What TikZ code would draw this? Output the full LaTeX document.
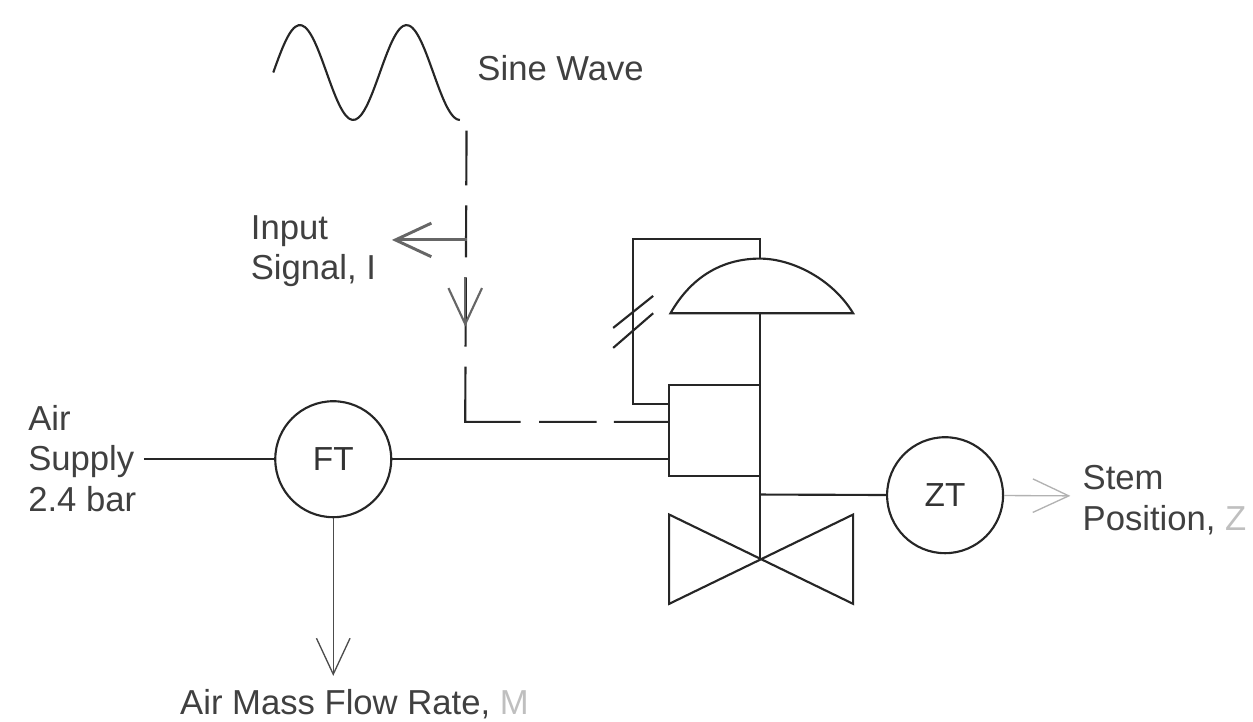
\documentclass[tikz,border=0pt]{standalone}
\usepackage{fontspec}
\setmainfont{Liberation Sans}
\usetikzlibrary{arrows.meta}
\tikzset{
  line/.style={line width=1.6pt,black!85},
  sig/.style={line width=1.6pt,black!85,dash pattern=on 41pt off 15pt on 39pt off 15pt on 52pt off 15pt on 83pt off 14pt on 43pt off 13pt on 41pt off 20pt},
  inst/.style={draw=black!85,line width=1.6pt,circle,minimum size=87pt,inner sep=0pt,font=\fontsize{25}{25}\selectfont,text=black!80},
  lab/.style={font=\fontsize{26}{30.5}\selectfont,text=black!75,inner sep=0pt,align=left},
  open/.style={-{Straight Barb[length=27pt,width=30pt,angle'=50]}}
}
\begin{document}
\begin{tikzpicture}[x=1pt,y=-1pt]
\useasboundingbox (0,0) rectangle (940,541.5);
% instruments
\node[inst] (ft) at (250,344.5) {FT};
\node[inst] (zt) at (709,371.5) {ZT};
\coordinate (sine) at (350,98);
\coordinate (corner) at (349,316.5);
\coordinate (boxin) at (502,316.5);
\coordinate (sigarrow) at (349,245);
\coordinate (sigdown) at (349,208);
\coordinate (siglabel) at (294,180);
\coordinate (sigtap) at (350,180);
\coordinate (supply) at (108,344.5);
\coordinate (boxft) at (502,344.5);
\coordinate (flowend) at (250,507);
\coordinate (ztend) at (803,372);
% sine wave
\draw[line] plot[domain=205:345,samples=60,smooth] (\x,{54.4-35.6*sin(4.5*(\x-205))});
\node[lab,anchor=west] (sinelab) at (358,51) {Sine Wave};
% signal line
\draw[sig] (sine) -- (corner) -- (boxin);
\draw[line,black!60,line width=2.2pt,open] (sigtap) -- (siglabel);
\draw[line,black!60,open] (sigdown) -- (sigarrow);
\node[lab,anchor=west] (inputlab) at (188,188.5) {Input\\Signal, I};
% actuator
\draw[line] (570,234) -- (570,419);
\draw[line] (503,235) .. controls (520,205) and (545,194) .. (570,194) .. controls (595,194) and (625,210) .. (640,235) -- cycle;
\draw[line] (502,289) rectangle (570,357);
\draw[line] (502,303) -- (475,303) -- (475,179) -- (570,179) -- (570,194);
\draw[line] (460,246) -- (490,222);
\draw[line] (460,261) -- (490,235);
% valve
\draw[line] (570,419) -- (502,386) -- (502,453) -- (640,386) -- (640,453) -- cycle;
\draw[line] (ft) -- (boxft);
\draw[line] (supply) -- (ft);
\draw[line] (570,371) -- (zt);
\draw[line,line width=1pt,black!70,open] (ft) -- (flowend);
\draw[line,line width=1pt,black!30,open] (zt) -- (ztend);
\node[lab,anchor=west] (supplylab) at (21,344) {Air\\Supply\\2.4 bar};
\node[lab,anchor=west] (stemlab) at (812,375) {Stem\\Position, {\color{black!25}Z}};
\node[lab,anchor=west] (flowlab) at (135,528) {Air Mass Flow Rate, {\color{black!25}M}};
\end{tikzpicture}
\end{document}
